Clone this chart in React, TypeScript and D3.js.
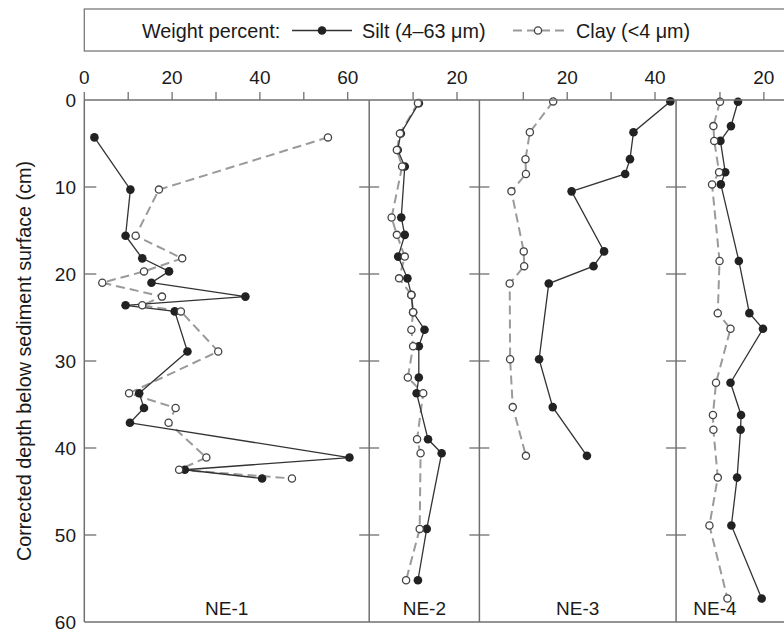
import React from 'react';
import * as d3 from 'd3';

// depth (cm) and weight percent values per core
const ne1Depth = [4.3, 10.3, 15.6, 18.2, 19.7, 21.0, 22.6, 23.6, 24.3, 28.9, 33.7, 35.4, 37.1, 41.1, 42.5, 43.5];
const ne1Silt = [2.3, 10.5, 9.4, 13.2, 19.3, 15.3, 36.7, 9.4, 20.6, 23.5, 12.5, 13.6, 10.4, 60.4, 22.9, 40.5];
const ne1Clay = [55.5, 17.0, 11.7, 22.3, 13.6, 4.1, 17.7, 13.2, 22.0, 30.5, 10.2, 20.8, 19.2, 27.8, 21.6, 47.3];

const ne2Depth = [0.36, 3.85, 5.75, 7.65, 13.5, 15.5, 18.0, 20.5, 22.4, 24.4, 26.4, 28.3, 31.9, 33.7, 39.0, 40.6, 49.3, 55.2];
const ne2Silt = [11.3, 7.2, 6.5, 8.1, 7.3, 8.1, 6.6, 8.7, 9.6, 10.0, 12.6, 11.3, 11.3, 10.8, 13.4, 16.5, 13.1, 11.1];
const ne2Clay = [11.1, 7.0, 6.3, 7.5, 5.1, 6.3, 8.1, 6.8, 9.6, 10.0, 9.6, 10.0, 8.8, 12.3, 10.9, 11.7, 11.5, 8.4];

const ne3Depth = [0.16, 3.7, 6.8, 8.5, 10.5, 17.4, 19.1, 21.1, 29.8, 35.3, 40.9];
const ne3Silt = [43.5, 35.1, 34.3, 33.2, 21.0, 28.4, 26.0, 15.8, 13.6, 16.7, 24.5];
const ne3Clay = [16.8, 11.5, 10.5, 10.6, 7.3, 10.1, 10.2, 6.9, 7.0, 7.6, 10.6];

const ne4Depth = [0.2, 3.0, 4.7, 8.3, 9.7, 18.5, 24.5, 26.3, 32.5, 36.2, 37.9, 43.4, 48.9, 57.3];
const ne4Silt = [14.1, 12.5, 10.1, 11.2, 10.2, 14.3, 16.7, 19.8, 12.4, 14.8, 14.7, 13.9, 12.6, 19.5];
const ne4Clay = [10.0, 8.5, 8.7, 9.8, 8.2, 9.9, 9.5, 12.4, 9.1, 8.4, 8.5, 9.5, 7.6, 11.7];

const coreNames = ['NE-1', 'NE-2', 'NE-3', 'NE-4'];
const depthTicks = [0, 10, 20, 30, 40, 50, 60];
const topTickLabels = [[0, 20, 40, 60], [20], [20, 40], [20]];
const topTicks = [[0, 10, 20, 30, 40, 50, 60], [10, 20], [10, 20, 30, 40], [10, 20]];

const cores = [
  { depth: ne1Depth, silt: ne1Silt, clay: ne1Clay },
  { depth: ne2Depth, silt: ne2Silt, clay: ne2Clay },
  { depth: ne3Depth, silt: ne3Silt, clay: ne3Clay },
  { depth: ne4Depth, silt: ne4Silt, clay: ne4Clay },
];

const W = 784;
const H = 632;
const font = '"Liberation Sans", Arial, Helvetica, sans-serif';
const fs = 19;
const fsBig = 19.8;
const pxPerUnit = 4.39;
// panel widths in percent units
const panelSpan = [64.9, 25.1, 44.8, 28.5];
const left = 84.3;
const top = 100;
const bottom = 622;
const borderCol = '#707070';
const textCol = '#1a1a1a';

const App = () => {
  const y = d3.scaleLinear().domain([0, 60]).range([top, bottom]);

  let x0 = left;
  const panels = panelSpan.map((span, i) => {
    const x = d3.scaleLinear().domain([0, span]).range([x0, x0 + span * pxPerUnit]);
    x0 += span * pxPerUnit;
    return { x, i };
  });

  const mkLine = (x: d3.ScaleLinear<number, number>) =>
    d3.line<[number, number]>().x(d => x(d[0])).y(d => y(d[1]));

  return (
    <svg width={W} height={H} style={{ position: 'absolute', left: 0, top: 0, background: '#fff' }} fontFamily={font}>
      {/* legend */}
      <rect x={84.3} y={9} width={760} height={42} fill="none" stroke="#7a7a7a" strokeWidth={1.3} />
      <text x={142} y={37.5} fontSize={fsBig} fill={textCol}>Weight percent:</text>
      <line x1={292} x2={352} y1={30.5} y2={30.5} stroke="#333" strokeWidth={1.3} />
      <circle cx={322} cy={30.5} r={4.3} fill="#222" />
      <text x={362} y={37.5} fontSize={fsBig} fill={textCol}>Silt (4–63 μm)</text>
      <line x1={513} x2={565} y1={30.5} y2={30.5} stroke="#999" strokeWidth={2} strokeDasharray="9,5" />
      <circle cx={538} cy={30.5} r={3.6} fill="#fff" stroke="#444" strokeWidth={1.3} />
      <text x={576} y={37.5} fontSize={fsBig} fill={textCol}>Clay (&lt;4 μm)</text>

      {/* y axis title */}
      <text
        transform={`translate(31,${(top + bottom) / 2}) rotate(-90)`}
        textAnchor="middle"
        fontSize={fsBig}
        fill={textCol}
      >
        Corrected depth below sediment surface (cm)
      </text>

      {/* y tick labels */}
      {depthTicks.map(t => (
        <text key={t} x={76} y={y(t) + 6.8} textAnchor="end" fontSize={fs} fill={textCol}>{t}</text>
      ))}

      {panels.map(({ x, i }) => {
        const c = cores[i];
        const [xa, xb] = x.range();
        const siltPts = c.depth.map((d, j) => [c.silt[j], d] as [number, number]);
        const clayPts = c.depth.map((d, j) => [c.clay[j], d] as [number, number]);
        const line = mkLine(x);
        return (
          <g key={i}>
            {/* top ticks */}
            {topTicks[i].map(t => (
              <line key={t} x1={x(t)} x2={x(t)} y1={top - 8} y2={top} stroke={borderCol} strokeWidth={1.3} />
            ))}
            {topTickLabels[i].map(t => (
              <text key={t} x={x(t)} y={84} textAnchor="middle" fontSize={fs} fill={textCol}>{t}</text>
            ))}
            {/* depth ticks on left border */}
            {depthTicks.slice(1, -1).map(t => (
              <line
                key={t}
                x1={i === 0 ? xa : xa - 10}
                x2={xa + (i === 0 ? 12 : 10)}
                y1={y(t)}
                y2={y(t)}
                stroke={borderCol}
                strokeWidth={1.3}
              />
            ))}
            <line x1={xa} x2={xa} y1={top} y2={bottom} stroke={borderCol} strokeWidth={1.5} />
            <text x={i === 3 ? 715 : (xa + xb) / 2} y={615} textAnchor="middle" fontSize={fs} fill={textCol}>
              {coreNames[i]}
            </text>
            <path d={line(clayPts) || ''} fill="none" stroke="#9a9a9a" strokeWidth={2} strokeDasharray="9,5" />
            <path d={line(siltPts) || ''} fill="none" stroke="#333" strokeWidth={1.3} />
            {siltPts.map((p, j) => (
              <circle key={'s' + j} cx={x(p[0])} cy={y(p[1])} r={4.3} fill="#222" />
            ))}
            {clayPts.map((p, j) => (
              <circle key={'c' + j} cx={x(p[0])} cy={y(p[1])} r={3.6} fill="#fff" stroke="#444" strokeWidth={1.3} />
            ))}
          </g>
        );
      })}

      {/* top axis line and bottom frame */}
      <line x1={left} x2={W + 10} y1={top} y2={top} stroke={borderCol} strokeWidth={1.5} />
      <line x1={left} x2={W + 10} y1={bottom} y2={bottom} stroke={borderCol} strokeWidth={1.5} />
    </svg>
  );
};

export default App;
